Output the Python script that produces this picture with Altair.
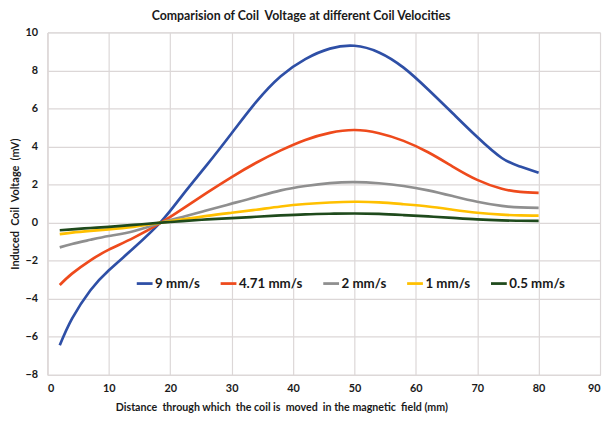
import altair as alt
import pandas as pd

distance = [2, 4, 7, 10, 14, 18.5, 22, 26, 30, 34, 38, 42, 46, 50, 54, 58, 62, 66, 70, 74, 77, 80]
v_9 = [-6.45, -5.05, -3.55, -2.5, -1.35, 0.05, 1.45, 3.05, 4.7, 6.35, 7.7, 8.6, 9.15, 9.3, 8.95, 8.15, 7.0, 5.75, 4.5, 3.4, 2.95, 2.62]
v_471 = [-3.28, -2.68, -1.98, -1.42, -0.8, 0.0, 0.72, 1.58, 2.4, 3.15, 3.8, 4.35, 4.72, 4.87, 4.7, 4.3, 3.7, 2.95, 2.25, 1.78, 1.62, 1.57]
v_2 = [-1.3, -1.12, -0.9, -0.7, -0.45, 0.0, 0.3, 0.65, 1.0, 1.35, 1.7, 1.93, 2.08, 2.13, 2.07, 1.93, 1.7, 1.4, 1.1, 0.88, 0.8, 0.78]
v_1 = [-0.6, -0.52, -0.43, -0.35, -0.22, 0.0, 0.17, 0.36, 0.52, 0.68, 0.85, 0.98, 1.06, 1.1, 1.07, 0.97, 0.85, 0.68, 0.52, 0.42, 0.38, 0.37]
v_05 = [-0.4, -0.35, -0.28, -0.22, -0.12, 0.0, 0.08, 0.17, 0.24, 0.31, 0.38, 0.44, 0.47, 0.48, 0.46, 0.4, 0.33, 0.25, 0.17, 0.12, 0.1, 0.09]

series_names = ["9 mm/s", "4.71 mm/s", "2 mm/s", "1 mm/s", "0.5 mm/s"]
series_values = [v_9, v_471, v_2, v_1, v_05]
colors = ["#2e4fa6", "#ee4a1c", "#8f8f8f", "#ffc000", "#1f4a1c"]

x_ticks = list(range(0, 91, 10))
y_ticks = list(range(-8, 11, 2))

rows = []
for i, (name, vals) in enumerate(zip(series_names, series_values)):
    for x, y in zip(distance, vals):
        rows.append({"Distance": x, "Voltage": y, "Velocity": name, "ord": i})
df = pd.DataFrame(rows)

FONT = "Lato"
GRID = "#dcd7d7"
TXT = "#1a1a1a"
S2 = " \u00a0"

chart = alt.Chart(df).mark_line(strokeWidth=2.7, interpolate="natural").encode(
    x=alt.X(
        "Distance:Q",
        scale=alt.Scale(domain=[0, 90], nice=False),
        axis=alt.Axis(
            values=x_ticks,
            title=f"Distance{S2}through which{S2}the coil is{S2}moved{S2}in the magnetic{S2}field (mm)",
            titleX=237,
            titleFont=FONT, titleFontSize=10.8, titleFontWeight="bold", titleColor=TXT,
            titlePadding=8,
            labelFont=FONT, labelFontSize=11, labelFontWeight="bold", labelColor=TXT,
            labelPadding=8, ticks=False, domainColor=GRID, gridColor=GRID, gridWidth=1.2,
        ),
    ),
    y=alt.Y(
        "Voltage:Q",
        scale=alt.Scale(domain=[-8, 10], nice=False),
        axis=alt.Axis(
            values=y_ticks,
            title=f"Induced{S2}Coil{S2}Voltage{S2}(mV)",
            titleFont=FONT, titleFontSize=11, titleFontWeight="bold", titleColor=TXT,
            titlePadding=5,
            labelFont=FONT, labelFontSize=11, labelFontWeight="bold", labelColor=TXT,
            labelPadding=10, ticks=False, domainColor=GRID, gridColor=GRID, gridWidth=1.2,
        ),
    ),
    color=alt.Color(
        "Velocity:N",
        scale=alt.Scale(domain=series_names, range=colors),
        sort=series_names,
        legend=alt.Legend(
            orient="none", direction="horizontal", legendX=89, legendY=245,
            title=None, symbolType="stroke", symbolSize=256, symbolStrokeWidth=2.8,
            labelFont=FONT, labelFontSize=13.5, labelFontWeight="bold", labelColor=TXT,
            labelOffset=1, columnPadding=14,
        ),
    ),
    order=alt.Order("ord:Q"),
).properties(
    width=560,
    height=347,
    title=alt.TitleParams(
        f"Comparision of Coil{S2}Voltage at different Coil Velocities",
        font=FONT, fontSize=12.5, fontWeight="bold", color=TXT,
        anchor="middle", dx=-23, offset=4,
    ),
    autosize=alt.AutoSizeParams(type="none"),
    padding={"left": 40, "top": 22, "right": 2, "bottom": 44},
).configure_view(stroke=None).configure(background="white")

chart.save("out.html", embed_options={"renderer": "svg", "actions": False})
